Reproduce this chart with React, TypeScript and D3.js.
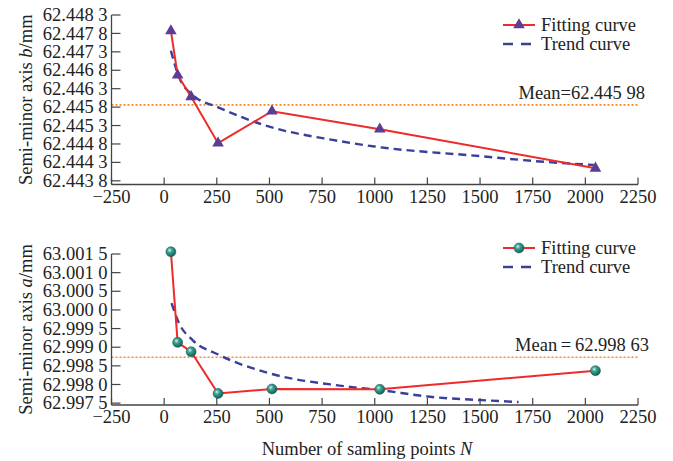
import React from 'react';
import * as d3 from 'd3';

// sampling sizes N
const samplePoints = [32, 64, 128, 256, 512, 1024, 2048];

// semi-minor axis b (top panel)
const fitB = [62.44787, 62.44667, 62.44608, 62.44482, 62.44569, 62.4452, 62.44414];
const trendBN = [32, 71, 135, 254, 500, 800, 1000, 1500, 1750, 2040];
const trendB = [62.44733, 62.44661, 62.44613, 62.4458, 62.44527, 62.44491, 62.44473, 62.44447, 62.44434, 62.44423];
const meanLineB = 62.44586;
const meanLabelB = 'Mean=62.445 98';
const yTicksB = [62.4438, 62.4443, 62.4448, 62.4453, 62.4458, 62.4463, 62.4468, 62.4473, 62.4478, 62.4483];

// semi-minor axis a (bottom panel)
const fitA = [63.00156, 62.99913, 62.99888, 62.99776, 62.99788, 62.99787, 62.99837];
const trendAN = [35, 71, 135, 254, 500, 833, 1027, 1262, 1508, 1683];
const trendA = [63.00018, 62.99964, 62.99919, 62.99881, 62.9983, 62.99797, 62.99785, 62.99767, 62.99758, 62.99753];
const meanLineA = 62.99873;
const meanLabelA = 'Mean\u2009=\u200962.998 63';
const yTicksA = [62.9975, 62.998, 62.9985, 62.999, 62.9995, 63.0, 63.0005, 63.001, 63.0015];

const xTicks = [-250, 0, 250, 500, 750, 1000, 1250, 1500, 1750, 2000, 2250];

const FONT = '"Liberation Serif", "Times New Roman", serif';
const RED = '#ee2a2a';
const BLUE = '#3a3f98';
const ORANGE = '#f28a2e';
const PURPLE = '#5a3d95';
const AXIS = '#444';

const fmtTick = (v: number) => {
  const s = v.toFixed(4);
  return s.slice(0, s.length - 1) + ' ' + s.slice(s.length - 1);
};

const x = d3.scaleLinear().domain([-250, 2250]).range([111.5, 638]);

type PanelProps = {
  y: d3.ScaleLinear<number, number>;
  yTicks: number[];
  fit: number[];
  trendN: number[];
  trend: number[];
  meanLine: number;
  meanLabel: string;
  marker: 'triangle' | 'sphere';
  varName: string;
  legendY: number;
  meanRight: number;
};

const Marker = ({ kind, cx, cy }: { kind: string; cx: number; cy: number }) =>
  kind === 'triangle' ? (
    <path d={d3.symbol(d3.symbolTriangle, 58)() as string} transform={`translate(${cx},${cy})`} fill={PURPLE} />
  ) : (
    <circle cx={cx} cy={cy} r={5} fill="url(#sphere)" stroke="#17574f" strokeWidth={0.5} />
  );

const Panel = (p: PanelProps) => {
  const [y0, yTop] = p.y.range();
  const [x0, x1] = x.range();
  const fitLine = d3.line<number>().x((_, i) => x(samplePoints[i])).y(d => p.y(d));
  const trendLine = d3
    .line<number>()
    .x((_, i) => x(p.trendN[i]))
    .y(d => p.y(d))
    .curve(d3.curveMonotoneX);
  const midY = (y0 + yTop) / 2;
  return (
    <g>
      {/* mean line */}
      <line x1={x0} x2={x1} y1={p.y(p.meanLine)} y2={p.y(p.meanLine)} stroke={ORANGE} strokeWidth={1.6} strokeDasharray="2,2" />
      <text x={p.meanRight} y={p.y(p.meanLine) - 6} textAnchor="end" fontSize={18.5} fontFamily={FONT} fill="#222">
        {p.meanLabel}
      </text>
      {/* axes */}
      <line x1={x0} x2={x1} y1={y0} y2={y0} stroke={AXIS} strokeWidth={1.3} />
      <line x1={x0} x2={x0} y1={y0} y2={yTop} stroke={AXIS} strokeWidth={1.3} />
      {xTicks.map(t => (
        <g key={t}>
          <line x1={x(t)} x2={x(t)} y1={y0} y2={y0 - 7} stroke={AXIS} strokeWidth={1.2} />
          <text x={x(t)} y={y0 + 18} textAnchor="middle" fontSize={18.5} fontFamily={FONT} fill="#222">
            {t < 0 ? '\u2212' + Math.abs(t) : t}
          </text>
        </g>
      ))}
      {p.yTicks.map(t => (
        <g key={t}>
          <line x1={x0} x2={x0 + 9} y1={p.y(t)} y2={p.y(t)} stroke={AXIS} strokeWidth={1.2} />
          <text x={x0 - 4} y={p.y(t)} dy="0.33em" textAnchor="end" fontSize={18.5} fontFamily={FONT} fill="#222">
            {fmtTick(t)}
          </text>
        </g>
      ))}
      <text
        transform={`translate(26,${midY}) rotate(-90)`}
        textAnchor="middle"
        dy="0.33em"
        fontSize={18.5}
        fontFamily={FONT}
        fill="#222"
      >
        Semi-minor axis <tspan fontStyle="italic">{p.varName}</tspan>/mm
      </text>
      {/* curves */}
      <path d={trendLine(p.trend) as string} fill="none" stroke={BLUE} strokeWidth={2.4} strokeDasharray="8,5" />
      <path d={fitLine(p.fit) as string} fill="none" stroke={RED} strokeWidth={2} />
      {p.fit.map((v, i) => (
        <Marker key={i} kind={p.marker} cx={x(samplePoints[i])} cy={p.y(v)} />
      ))}
      {/* legend */}
      <g transform={`translate(503,${p.legendY})`}>
        <line x1={0} x2={32} y1={0} y2={0} stroke={RED} strokeWidth={2} />
        <Marker kind={p.marker} cx={16} cy={0} />
        <text x={38} y={0} dy="0.33em" fontSize={18.5} fontFamily={FONT} fill="#222">
          Fitting curve
        </text>
        <line x1={0} x2={32} y1={19} y2={19} stroke={BLUE} strokeWidth={2.4} strokeDasharray="10,8" />
        <text x={38} y={19} dy="0.33em" fontSize={18.5} fontFamily={FONT} fill="#222">
          Trend curve
        </text>
      </g>
    </g>
  );
};

export default function App() {
  const yB = d3.scaleLinear().domain([62.4437, 62.4483]).range([184.5, 15]);
  const yA = d3.scaleLinear().domain([62.99745, 63.0015]).range([405, 254]);
  return (
    <svg width={673} height={461} style={{ position: 'absolute', left: 0, top: 0, background: '#fff' }}>
      <defs>
        <radialGradient id="sphere" cx="0.38" cy="0.35" r="0.65">
          <stop offset="0" stopColor="#d8f2ec" />
          <stop offset="0.35" stopColor="#3aa592" />
          <stop offset="1" stopColor="#145e55" />
        </radialGradient>
      </defs>
      <Panel
        y={yB}
        yTicks={yTicksB}
        fit={fitB}
        trendN={trendBN}
        trend={trendB}
        meanLine={meanLineB}
        meanLabel={meanLabelB}
        marker="triangle"
        varName="b"
        legendY={25}
        meanRight={645}
      />
      <Panel
        y={yA}
        yTicks={yTicksA}
        fit={fitA}
        trendN={trendAN}
        trend={trendA}
        meanLine={meanLineA}
        meanLabel={meanLabelA}
        marker="sphere"
        varName="a"
        legendY={248}
        meanRight={649}
      />
      <text x={367} y={455} textAnchor="middle" fontSize={18.5} fontFamily={FONT} fill="#222">
        Number of samling points <tspan fontStyle="italic">N</tspan>
      </text>
    </svg>
  );
}
